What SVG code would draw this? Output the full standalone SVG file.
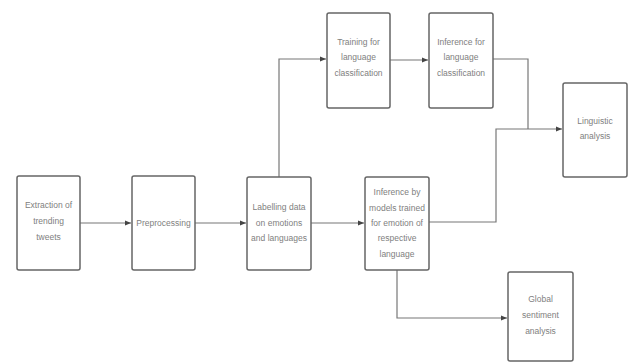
<svg xmlns="http://www.w3.org/2000/svg" width="631" height="362" viewBox="0 0 631 362">
<style>
.box{fill:#fff;stroke:#666;stroke-width:1.5}
.lbl{font-family:"Liberation Sans",Arial,sans-serif;font-size:8.5px;fill:#808080;text-anchor:middle}
.con{fill:none;stroke:#777;stroke-width:1.2}
</style>
<defs>
<marker id="arr" viewBox="0 0 6 6" refX="6" refY="3" markerWidth="6" markerHeight="6" markerUnits="userSpaceOnUse" orient="auto">
<path d="M0,0.5 L6,3 L0,5.5 Z" fill="#444"/>
</marker>
</defs>
<rect width="631" height="362" fill="#fff"/>
<g id="connectors">
<path class="con" d="M80,223 H131" marker-end="url(#arr)"/>
<path class="con" d="M195,223 H246" marker-end="url(#arr)"/>
<path class="con" d="M311,223 H364" marker-end="url(#arr)"/>
<path class="con" d="M279,177 V59 H326" marker-end="url(#arr)"/>
<path class="con" d="M390,60 H428" marker-end="url(#arr)"/>
<path class="con" d="M493,59 H528 V129"/>
<path class="con" d="M429,222 H496 V129 H562" marker-end="url(#arr)"/>
<path class="con" d="M397,270 V318 H507" marker-end="url(#arr)"/>
</g>
<g id="n1"><rect class="box" x="17" y="176" width="63" height="94" rx="2"/>
<text class="lbl"><tspan x="48.5" y="208">Extraction of</tspan><tspan x="48.5" y="224">trending</tspan><tspan x="48.5" y="240">tweets</tspan></text></g>
<g id="n2"><rect class="box" x="132" y="176" width="63" height="94" rx="2"/>
<text class="lbl" x="163.5" y="226">Preprocessing</text></g>
<g id="n3"><rect class="box" x="247" y="177" width="64" height="93" rx="2"/>
<text class="lbl"><tspan x="279" y="210">Labelling data</tspan><tspan x="279" y="226">on emotions</tspan><tspan x="279" y="241">and languages</tspan></text></g>
<g id="n4"><rect class="box" x="365" y="177" width="64" height="93" rx="2"/>
<text class="lbl"><tspan x="397" y="195">Inference by</tspan><tspan x="397" y="211">models trained</tspan><tspan x="397" y="226">for emotion of</tspan><tspan x="397" y="241">respective</tspan><tspan x="397" y="257">language</tspan></text></g>
<g id="n5"><rect class="box" x="327" y="13" width="63" height="95" rx="2"/>
<text class="lbl"><tspan x="358.5" y="45">Training for</tspan><tspan x="358.5" y="60">language</tspan><tspan x="358.5" y="76">classification</tspan></text></g>
<g id="n6"><rect class="box" x="429" y="13" width="64" height="95" rx="2"/>
<text class="lbl"><tspan x="461" y="45">Inference for</tspan><tspan x="461" y="60">language</tspan><tspan x="461" y="76">classification</tspan></text></g>
<g id="n7"><rect class="box" x="563" y="83" width="64" height="94" rx="2"/>
<text class="lbl"><tspan x="595" y="124">Linguistic</tspan><tspan x="595" y="139">analysis</tspan></text></g>
<g id="n8"><rect class="box" x="508" y="272" width="65" height="89" rx="2"/>
<text class="lbl"><tspan x="540.5" y="302">Global</tspan><tspan x="540.5" y="318">sentiment</tspan><tspan x="540.5" y="334">analysis</tspan></text></g>
</svg>
